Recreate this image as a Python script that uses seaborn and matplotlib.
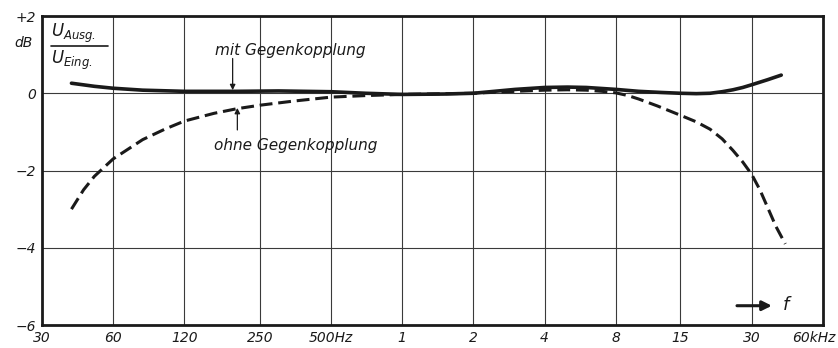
import matplotlib
matplotlib.use("Agg")
import matplotlib.pyplot as plt
import matplotlib.transforms as mtransforms
import numpy as np
import pandas as pd
import seaborn as sns

# ------------------------------------------
# Daten: Frequenzgang mit / ohne Gegenkopplung
# ------------------------------------------
f_mit = [40, 50, 60, 80, 120, 200, 300, 500, 700, 1000, 1500, 2000, 3000,
         4000, 5000, 6000, 8000, 10000, 12500, 15000, 17500, 20000, 22500,
         25000, 27500, 30000, 35000, 40000]
db_mit = [0.26, 0.18, 0.13, 0.08, 0.05, 0.05, 0.06, 0.04, 0.0, -0.03, -0.02, 0.0, 0.1,
          0.15, 0.16, 0.15, 0.1, 0.05, 0.02, 0.0, -0.01, 0.0, 0.04,
          0.09, 0.15, 0.22, 0.35, 0.47]

f_ohne = [40, 45, 50, 60, 80, 100, 120, 160, 200, 250, 350, 500, 700, 1000, 2000,
          3000, 4000, 5000, 6000, 7000, 8000, 9000, 10000, 12000, 15000, 17500,
          20000, 22500, 25000, 27500, 30000, 32500, 35000, 38000, 41600]
db_ohne = [-3.0, -2.5, -2.15, -1.7, -1.2, -0.92, -0.72, -0.52, -0.40, -0.31, -0.2,
           -0.1, -0.06, -0.03, 0.0, 0.05, 0.08, 0.09, 0.08, 0.05, 0.01, -0.06,
           -0.15, -0.33, -0.57, -0.74, -0.93, -1.18, -1.48, -1.78, -2.1, -2.5,
           -2.95, -3.45, -3.9]

x_ticks = [30, 60, 120, 250, 500, 1000, 2000, 4000, 8000, 15000, 30000, 60000]
x_labels = ["30", "60", "120", "250", "500Hz", "1", "2", "4", "8", "15", "30", "60kHz"]
y_ticks = [2, 0, -2, -4, -6]
y_labels = ["+2", "0", "\u22122", "\u22124", "\u22126"]

INK = "#1a1a1a"
GRID = "#3a3a3a"

sns.set_style("white")
plt.rcParams['font.family'] = ['DejaVu Sans']
plt.rcParams['font.style'] = 'italic'
plt.rcParams['mathtext.fontset'] = 'dejavusans'

df_mit = pd.DataFrame({"f": f_mit, "dB": db_mit})
df_ohne = pd.DataFrame({"f": f_ohne, "dB": db_ohne})

fig = plt.figure(figsize=(8.38, 3.48), dpi=100)
ax = fig.add_axes([0.050, 0.066, 0.932, 0.888])

sns.lineplot(data=df_mit, x="f", y="dB", ax=ax, color=INK, linewidth=2.6,
             solid_capstyle="round", zorder=3)
sns.lineplot(data=df_ohne, x="f", y="dB", ax=ax, color=INK, linewidth=2.2,
             zorder=4).lines[-1].set_dashes([4.2, 1.9])

ax.set_xscale("log")
ax.set_xlim(30, 60000)
ax.set_ylim(-6, 2)

ax.set_xticks(x_ticks)
ax.set_xticklabels(x_labels, fontsize=10, style="italic", color=INK)
ax.minorticks_off()
ax.set_yticks(y_ticks)
ax.set_yticklabels(y_labels, fontsize=10, style="italic", color=INK)
ax.tick_params(axis="both", length=0, pad=4)
ax.set_xlabel("")
ax.set_ylabel("")

# letzte Beschriftung etwas nach links, damit sie ins Bild passt
last = ax.get_xticklabels()[-1]
last.set_transform(last.get_transform() +
                   mtransforms.ScaledTranslation(-9 / 100, 0, fig.dpi_scale_trans))

# Gitter
for xv in x_ticks[1:-1]:
    ax.axvline(xv, color=GRID, linewidth=0.8, zorder=1)
for yv in [0, -2, -4]:
    ax.axhline(yv, color=GRID, linewidth=0.8, zorder=1)

for sp in ax.spines.values():
    sp.set_visible(True)
    sp.set_linewidth(2.0)
    sp.set_color(INK)

# Einheit dB unter +2
ax.text(-0.012, 1.3, "dB", transform=ax.get_yaxis_transform(), ha="right",
        va="center", fontsize=10, style="italic", color=INK)

# Bruch U_Ausg. / U_Eing.
ax.text(0.012, 0.945, r"$U_{\mathit{Ausg.}}$", transform=ax.transAxes,
        ha="left", va="center", fontsize=12, color=INK)
ax.text(0.012, 0.855, r"$U_{\mathit{Eing.}}$", transform=ax.transAxes,
        ha="left", va="center", fontsize=12, color=INK)
ax.plot([0.012, 0.085], [0.902, 0.902], transform=ax.transAxes,
        color=INK, linewidth=1.2, clip_on=False)

# Beschriftungen der Kurven
ax.text(162, 1.11, "mit Gegenkopplung", fontsize=11, style="italic",
        color=INK, ha="left", va="center")
ax.annotate("", xy=(192, 0.08), xytext=(192, 0.9),
            arrowprops=dict(arrowstyle="-|>", color=INK, lw=0.9,
                            mutation_scale=8, shrinkA=0, shrinkB=0))
ax.text(160, -1.35, "ohne Gegenkopplung", fontsize=11, style="italic",
        color=INK, ha="left", va="center")
ax.annotate("", xy=(201, -0.38), xytext=(201, -0.95),
            arrowprops=dict(arrowstyle="-|>", color=INK, lw=0.9,
                            mutation_scale=8, shrinkA=0, shrinkB=0))

# Pfeil f
ax.annotate("", xy=(36500, -5.5), xytext=(26000, -5.5),
            arrowprops=dict(arrowstyle="-|>", color=INK, lw=2.2,
                            mutation_scale=14, shrinkA=0, shrinkB=0))
ax.text(40500, -5.48, "f", fontsize=13, style="italic", color=INK,
        ha="left", va="center")

fig.savefig("out.png", dpi=100)
